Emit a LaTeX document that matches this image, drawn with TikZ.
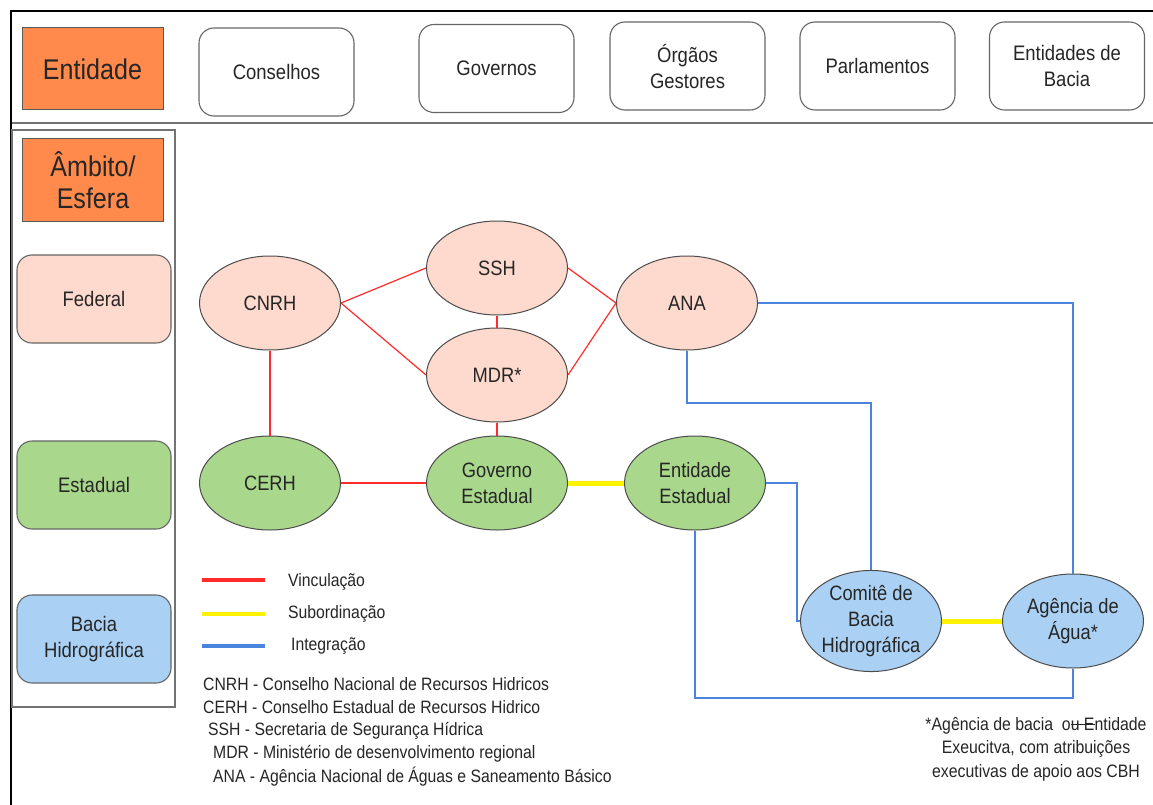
\documentclass[tikz,border=0pt]{standalone}
\usepackage{fontspec}
\setmainfont[FakeStretch=0.88]{Liberation Sans}
\usetikzlibrary{shapes.geometric}
\definecolor{orng}{HTML}{FF8A4C}
\definecolor{pnk}{HTML}{FED9CE}
\definecolor{grn}{HTML}{A9D88D}
\definecolor{blu}{HTML}{AAD0F4}
\definecolor{redl}{HTML}{FF2A2A}
\definecolor{yell}{HTML}{FFF200}
\definecolor{bluel}{HTML}{4A84DE}
\definecolor{txt}{HTML}{262626}
\newcommand{\strikeit}[1]{\setbox0=\hbox{#1}\rlap{\raisebox{0.32em}{\rule{\wd0}{0.7pt}}}\box0}
\tikzset{
  hdr/.style={draw=black!60, line width=1.1pt, rounded corners=15pt, minimum width=155pt, minimum height=88pt, align=center, text=txt, font=\fontsize{21}{26}\selectfont, inner sep=0pt},
  lvl/.style={draw=black!60, line width=1.1pt, rounded corners=15pt, minimum width=154pt, minimum height=88pt, align=center, text=txt, font=\fontsize{21}{26.5}\selectfont, inner sep=0pt},
  titlebox/.style={draw=black!65, line width=1pt, fill=orng, minimum width=141pt, minimum height=82pt, align=center, text=txt, font=\fontsize{28.5}{32}\selectfont, inner sep=0pt},
  elp/.style={ellipse, draw=black!70, line width=1pt, minimum width=141pt, minimum height=94pt, align=center, text=txt, font=\fontsize{20.8}{26}\selectfont, inner sep=0pt},
  vinc/.style={draw=redl, line width=1.2pt},
  subo/.style={draw=yell, line width=5pt},
  integ/.style={draw=bluel, line width=1.2pt},
  legtxt/.style={anchor=west, text=txt, font=\fontsize{17.9}{18}\selectfont, inner sep=0pt},
}
\begin{document}
\begin{tikzpicture}[x=1pt,y=-1pt]
\useasboundingbox (0,0) rectangle (1153,805);
\fill[white] (0,0) rectangle (1153,805);
% frame
\draw[black, line width=2.5pt] (11,805) -- (11,11) -- (1153,11);
\draw[black!55, line width=1.5pt] (12,123) -- (1153,123);
\draw[black!55, line width=1.2pt] (12,130) rectangle (175,707);
% header
\node[titlebox] (ent) at (92.5,69) {Entidade};
\node[hdr] (cons) at (276.5,72) {Conselhos};
\node[hdr] (govs) at (496.5,68.5) {Governos};
\node[hdr] (orgs) at (687.5,66) {Órgãos\\Gestores};
\node[hdr] (parl) at (877.5,66) {Parlamentos};
\node[hdr] (entb) at (1067,66) {Entidades de\\Bacia};
% left column
\node[titlebox] (amb) at (93,180) {Âmbito/\\Esfera};
\node[lvl, fill=pnk] (fed) at (94,299) {Federal};
\node[lvl, fill=grn] (est) at (94,485) {Estadual};
\node[lvl, fill=blu] (bac) at (94,639) {Bacia\\Hidrográfica};
% ellipses
\node[elp, fill=pnk] (cnrh) at (270,303) {CNRH};
\node[elp, fill=pnk] (ssh) at (497,268) {SSH};
\node[elp, fill=pnk] (mdr) at (497,375) {MDR*};
\node[elp, fill=pnk] (ana) at (687,303) {ANA};
\node[elp, fill=grn] (cerh) at (270,483) {CERH};
\node[elp, fill=grn] (gov) at (497,483) {Governo\\Estadual};
\node[elp, fill=grn] (entest) at (695,483) {Entidade\\Estadual};
\node[elp, fill=blu] (comite) at (871,621) {Comitê de\\Bacia\\Hidrográfica};
\node[elp, fill=blu] (agua) at (1073,621) {Agência de\\Água*};
% red connectors
\draw[vinc] (cnrh.east) -- (ssh.west);
\draw[vinc] (cnrh.east) -- (mdr.west);
\draw[vinc] (ssh.south) -- (mdr.north);
\draw[vinc] (ssh.east) -- (ana.west);
\draw[vinc] (mdr.east) -- (ana.west);
\draw[vinc] (mdr.south) -- (gov.north);
\draw[vinc] (cnrh.south) -- (cerh.north);
\draw[vinc] (cerh.east) -- (gov.west);
% yellow
\draw[subo] (gov.east) -- (entest.west);
\draw[subo] (comite.east) -- (agua.west);
% blue
\coordinate (j1) at (0,403);
\coordinate (k1) at (797,483);
\coordinate (m1) at (0,698);
\draw[integ] (ana.east) -| (agua.north);
\draw[integ] (ana.south) -- (ana.south |- j1) -| (comite.north);
\draw[integ] (entest.east) -- (k1) |- (comite.west);
\draw[integ] (entest.south) -- (entest.south |- m1) -| (agua.south);
% legend
\coordinate (l1a) at (202,580); \coordinate (l1b) at (265,580);
\coordinate (l2a) at (202,614); \coordinate (l2b) at (265,614);
\coordinate (l3a) at (202,646); \coordinate (l3b) at (265,646);
\draw[redl, line width=4pt] (l1a) -- (l1b);
\draw[yell, line width=4pt] (l2a) -- (l2b);
\draw[bluel, line width=4pt] (l3a) -- (l3b);
\node[legtxt] (lt1) at (288,582) {Vinculação};
\node[legtxt] (lt2) at (288,614) {Subordinação};
\node[legtxt] (lt3) at (291,646) {Integração};
\node[legtxt] (ab1) at (203,684) {CNRH - Conselho Nacional de Recursos Hidricos};
\node[legtxt] (ab2) at (203,707) {CERH - Conselho Estadual de Recursos Hidrico};
\node[legtxt] (ab3) at (208,731) {SSH - Secretaria de Segurança Hídrica};
\node[legtxt] (ab4) at (213,754) {MDR - Ministério de desenvolvimento regional};
\node[legtxt] (ab5) at (213,777) {ANA - Agência Nacional de Águas e Saneamento Básico};
% footnote
\node[align=center, text=txt, font=\fontsize{18}{23.5}\selectfont, inner sep=0pt] (fn) at (1036,749) {*Agência de bacia\ \ o\strikeit{u E}ntidade\\Exeucitva, com atribuições\\executivas de apoio aos CBH};
\end{tikzpicture}
\end{document}
